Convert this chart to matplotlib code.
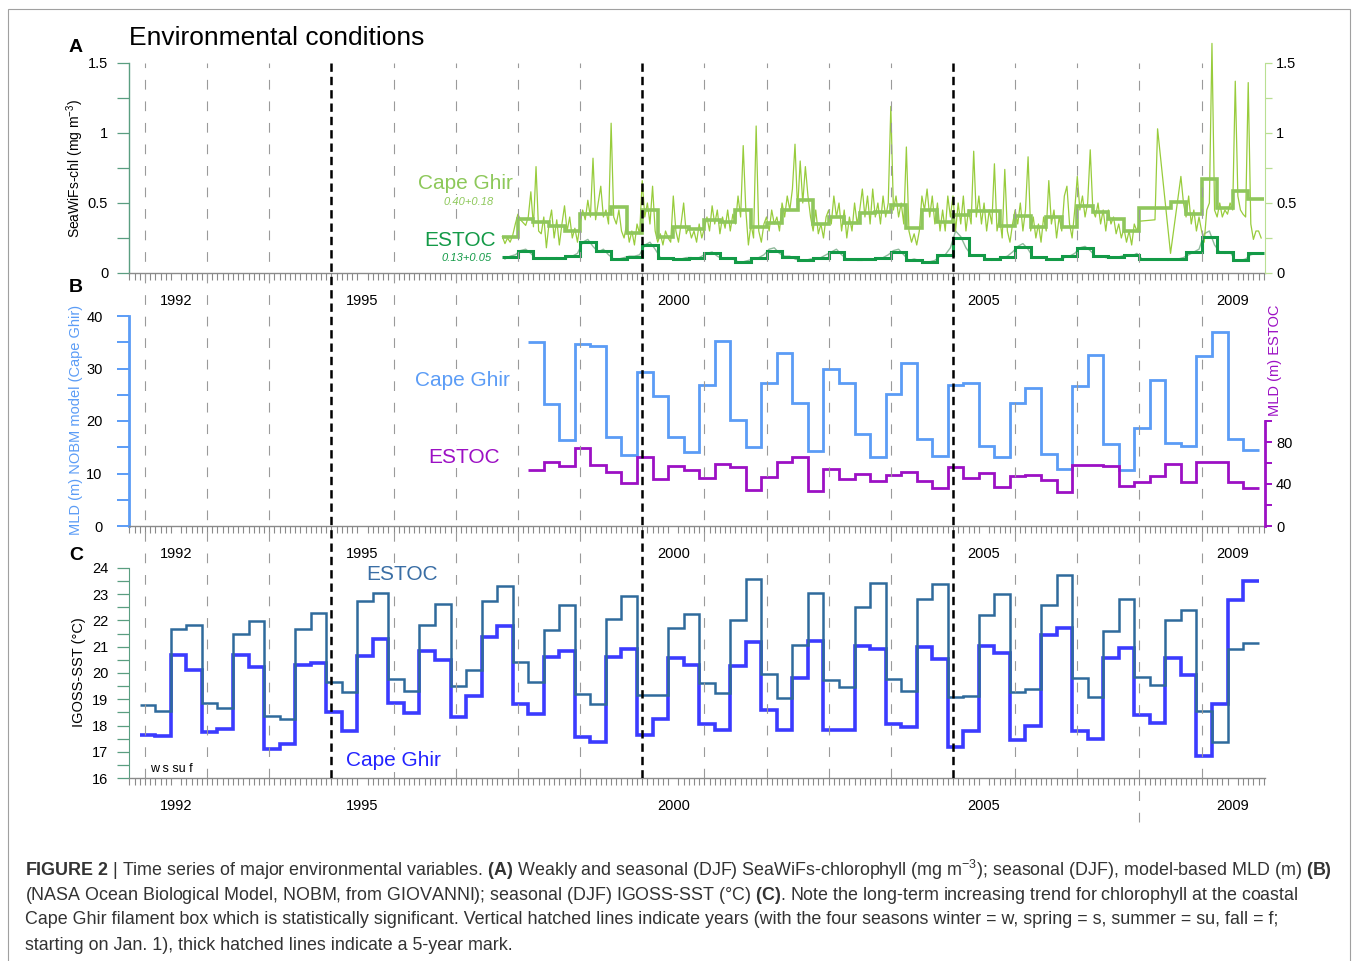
import numpy as np
import matplotlib
matplotlib.use('Agg')
import matplotlib.pyplot as plt
from matplotlib.patches import Rectangle
from matplotlib.ticker import MultipleLocator, FixedLocator

plt.rcParams['font.family'] = ['Liberation Sans', 'DejaVu Sans']
plt.rcParams['mathtext.fontset'] = 'custom'
plt.rcParams['mathtext.rm'] = 'Liberation Sans'
plt.rcParams['mathtext.bf'] = 'Liberation Sans:bold'
plt.rcParams['mathtext.it'] = 'Liberation Sans:italic'
plt.rcParams['lines.scale_dashes'] = False

nan = np.nan

# ---------------- DATA ----------------
year_label_values = [1992, 1995, 2000, 2005, 2009]
year_lines = list(range(1992, 2010))

# Panel A: SeaWiFS chlorophyll (mg m-3); ~half-monthly from Oct 1997
chl_start = 1997.75
chl_cg_weekly = [
    0.26, 0.21, 0.25, 0.22, 0.27, 0.35,
    0.42, 0.38, 0.36, 0.34, 0.40, 0.58, 0.33, 0.76, 0.30, 0.28, 0.40, 0.18, 0.35, 0.45, 0.25, 0.38, 0.20, 0.35, 0.48, 0.30, 0.40, 0.25, 0.32, 0.22,
    0.35, 0.45, 0.38, 0.52, 0.40, 0.82, 0.38, 0.50, 0.62, 0.40, 0.45, 0.35, 1.07, 0.40, 0.35, 0.45, 0.30, 0.25, 0.35, 0.22, 0.30, 0.20, 0.35, 0.28,
    0.66, 0.40, 0.50, 0.35, 0.62, 0.30, 0.22, 0.28, 0.20, 0.30, 0.25, 0.22, 0.55, 0.30, 0.22, 0.35, 0.50, 0.28, 0.33, 0.25, 0.30, 0.22, 0.35, 0.25,
    0.32, 0.40, 0.30, 0.48, 0.35, 0.45, 0.28, 0.40, 0.32, 0.45, 0.30, 0.42, 0.35, 0.55, 0.40, 0.91, 0.45, 0.20, 0.35, 0.25, 1.05, 0.30, 0.22, 0.35,
    0.40, 0.30, 0.45, 0.35, 0.40, 0.30, 0.50, 0.40, 0.55, 0.45, 0.60, 0.92, 0.45, 0.80, 0.50, 0.76, 0.55, 0.40, 0.30, 0.45, 0.28, 0.35, 0.25, 0.40,
    0.45, 0.35, 0.55, 0.40, 0.50, 0.30, 0.45, 0.25, 0.40, 0.30, 0.50, 0.35, 0.45, 0.60, 0.40, 0.55, 0.35, 0.60, 0.40, 0.50, 0.35, 0.55, 0.40, 0.50,
    1.19, 0.45, 0.55, 0.40, 0.50, 0.35, 0.90, 0.30, 0.22, 0.28, 0.20, 0.30, 0.55, 0.45, 0.60, 0.40, 0.55, 0.35, 0.50, 0.30, 0.45, 0.30, 0.55, 0.40,
    0.55, 0.30, 0.50, 0.35, 0.55, 0.30, 0.45, 0.35, 0.87, 0.40, 0.55, 0.35, 0.50, 0.30, 0.45, 0.35, 0.78, 0.30, 0.40, 0.25, 0.74, 0.30, 0.22, 0.35,
    0.45, 0.35, 0.50, 0.30, 0.45, 0.83, 0.30, 0.40, 0.25, 0.35, 0.22, 0.40, 0.30, 0.66, 0.35, 0.45, 0.25, 0.40, 0.30, 0.55, 0.62, 0.35, 0.25, 0.45,
    0.69, 0.45, 0.55, 0.40, 0.50, 0.88, 0.45, 0.40, 0.50, 0.35, 0.45, 0.30, 0.45, 0.35, 0.40, 0.28, 0.35, 0.25, 0.32, 0.22, 0.30, 0.20, 0.35, 0.30,
    0.37, nan, nan, nan, nan, nan, 0.38, 1.03, nan, nan, nan, nan, 0.14, nan, nan, nan, 0.69, 0.50, 0.40, 0.55, 0.35, 0.45, 0.30, 0.40,
    0.30, 0.22, 0.45, 0.50, 1.64, 0.45, 0.40, 0.50, 0.40, 0.45, 0.42, 0.50, 0.45, 1.37, 0.55, 0.45, 0.42, 0.40, 1.36, 0.35, 0.24, 0.30, 0.30, 0.25,
]
chl_estoc_monthly = [
    0.10, 0.12, 0.13,
    0.16, 0.17, 0.14, 0.10, 0.10, 0.11, 0.10, 0.11, 0.10, 0.11, 0.12, 0.14,
    0.22, 0.24, 0.19, 0.15, 0.17, 0.13, 0.10, 0.10, 0.11, 0.12, 0.12, 0.13,
    0.20, 0.22, 0.17, 0.11, 0.10, 0.10, 0.10, 0.10, 0.11, 0.11, 0.10, 0.12,
    0.14, 0.15, 0.12, 0.10, 0.11, 0.10, 0.08, 0.08, 0.09, 0.10, 0.11, 0.13,
    0.17, 0.18, 0.14, 0.12, 0.12, 0.10, 0.09, 0.09, 0.10, 0.10, 0.11, 0.13,
    0.15, 0.17, 0.13, 0.10, 0.10, 0.09, 0.09, 0.10, 0.10, 0.10, 0.11, 0.13,
    0.16, 0.17, 0.13, 0.09, 0.10, 0.09, 0.08, 0.08, 0.09, 0.12, 0.13, 0.18,
    0.30, 0.26, 0.18, 0.13, 0.12, 0.13, 0.10, 0.09, 0.10, 0.11, 0.12, 0.15,
    0.19, 0.21, 0.17, 0.11, 0.11, 0.11, 0.10, 0.10, 0.10, 0.11, 0.12, 0.14,
    0.18, 0.19, 0.16, 0.12, 0.12, 0.11, 0.11, 0.11, 0.12, 0.13, 0.12, 0.14,
    0.10, 0.10, 0.10, 0.10, 0.10, 0.09, 0.10, 0.10, 0.11, 0.13, 0.15, 0.17,
    0.28, 0.30, 0.20, 0.15, 0.14, 0.15, 0.09, 0.09, 0.10, 0.13, 0.14, 0.14,
]
chl_cg_seasonal = [
    0.255,
    0.386, 0.364, 0.336, 0.302,
    0.421, 0.421, 0.474, 0.288,
    0.450, 0.255, 0.326, 0.312,
    0.379, 0.367, 0.450, 0.326,
    0.360, 0.450, 0.520, 0.350,
    0.402, 0.355, 0.426, 0.438,
    0.486, 0.319, 0.450, 0.367,
    0.414, 0.445, 0.445, 0.336,
    0.410, 0.326, 0.402, 0.331,
    0.481, 0.438, 0.386, 0.302,
    0.467, 0.467, 0.510, 0.421,
    0.669, 0.462, 0.586, 0.529,
]
chl_estoc_seasonal = [
    0.117,
    0.155, 0.105, 0.105, 0.120,
    0.219, 0.160, 0.100, 0.117,
    0.202, 0.105, 0.100, 0.105,
    0.140, 0.105, 0.081, 0.105,
    0.160, 0.117, 0.093, 0.105,
    0.152, 0.098, 0.098, 0.105,
    0.152, 0.093, 0.081, 0.129,
    0.248, 0.129, 0.100, 0.117,
    0.188, 0.112, 0.100, 0.121,
    0.176, 0.121, 0.112, 0.129,
    0.100, 0.100, 0.100, 0.152,
    0.260, 0.152, 0.093, 0.140,
]

# Panel B: MLD (m), seasonal from spring 1998
mld_start = 1998 + 2 / 12
mld_cg = [
    35.0, 23.2, 16.4,
    34.7, 34.2, 17.0, 13.5,
    29.3, 24.8, 17.0, 14.1,
    26.9, 35.3, 20.2, 15.1,
    27.3, 33.0, 23.4, 14.2,
    30.0, 27.2, 17.5, 13.2,
    25.1, 31.0, 16.5, 13.3,
    26.9, 27.3, 15.2, 13.2,
    23.5, 26.3, 13.8, 10.8,
    26.7, 32.6, 15.6, 10.7,
    18.7, 27.9, 15.9, 15.3,
    32.4, 37.0, 16.6, 14.5,
]
mld_estoc = [
    53.0, 60.6, 56.8,
    74.0, 57.8, 51.7, 41.3,
    65.7, 45.1, 57.5, 53.3,
    46.0, 59.4, 56.5, 34.3,
    47.0, 61.3, 66.0, 33.3,
    54.6, 44.4, 49.5, 43.2,
    48.6, 51.1, 43.2, 36.5,
    56.5, 45.4, 50.2, 37.5,
    47.6, 48.6, 43.8, 32.7,
    58.4, 58.1, 57.1, 38.4,
    42.2, 47.9, 59.0, 41.6,
    61.3, 60.6, 41.6, 36.2,
]

# Panel C: IGOSS SST (deg C), seasonal (DJF, MAM, JJA, SON) from winter 1992
sst_start = 1991 + 11 / 12
sst_estoc = [
    18.79, 18.57, 21.67, 21.83,
    18.86, 18.65, 21.50, 21.97,
    18.38, 18.26, 21.67, 22.27,
    19.66, 19.26, 22.74, 23.05,
    19.77, 19.33, 21.84, 22.63,
    19.51, 20.10, 22.74, 23.30,
    20.43, 19.66, 21.64, 22.59,
    19.19, 18.81, 22.04, 22.95,
    19.16, 19.15, 21.70, 22.26,
    19.61, 19.23, 22.02, 23.58,
    19.96, 19.06, 21.07, 23.03,
    19.73, 19.48, 22.53, 23.42,
    19.78, 19.31, 22.83, 23.39,
    19.10, 19.14, 22.21, 23.01,
    19.28, 19.39, 22.59, 23.73,
    19.80, 19.10, 21.60, 22.82,
    19.83, 19.53, 22.02, 22.39,
    18.57, 17.38, 20.91, 21.16,
]
sst_cg = [
    17.62, 17.59, 20.68, 20.11,
    17.76, 17.87, 20.67, 20.21,
    17.11, 17.28, 20.29, 20.38,
    18.51, 17.79, 20.66, 21.28,
    18.86, 18.48, 20.85, 20.50,
    18.33, 19.12, 21.37, 21.79,
    18.82, 18.44, 20.60, 20.85,
    17.55, 17.38, 20.60, 20.90,
    17.65, 18.23, 20.58, 20.30,
    18.07, 17.83, 20.27, 21.19,
    18.59, 17.83, 19.80, 21.23,
    17.83, 17.82, 21.03, 20.90,
    18.04, 17.93, 20.98, 20.52,
    17.19, 17.80, 21.04, 20.75,
    17.45, 17.98, 21.43, 21.70,
    17.78, 17.47, 20.58, 20.97,
    18.40, 18.11, 20.56, 19.92,
    16.85, 18.82, 22.78, 23.52,
]

# ---------------- LAYOUT ----------------
W, H = 1358, 961
fig = plt.figure(figsize=(W / 100, H / 100), dpi=100)


def rect(x0, y0, x1, y1):
    return [x0 / W, 1 - y1 / H, (x1 - x0) / W, (y1 - y0) / H]


XLIM = (1991.743, 2010.02)
AX_GRAY = '#8a8a8a'
GREEN_AX = '#5a9e80'

axA = fig.add_axes(rect(129, 63, 1265, 273))
axB = fig.add_axes(rect(129, 316, 1265, 526))
axC = fig.add_axes(rect(129, 568, 1265, 778))


def style_x(ax):
    ax.set_xlim(*XLIM)
    ax.patch.set_alpha(0)
    ax.spines['top'].set_visible(False)
    ax.spines['right'].set_visible(False)
    ax.spines['bottom'].set_color(AX_GRAY)
    ax.spines['bottom'].set_linewidth(1.0)
    ax.set_xticks([y + 0.5 for y in year_label_values], [str(y) for y in year_label_values])
    ax.xaxis.set_minor_locator(MultipleLocator(1 / 12))
    ax.tick_params(axis='x', which='major', length=0, pad=15, labelsize=10.5)
    ax.tick_params(axis='x', which='minor', length=5, width=0.8, color=AX_GRAY)


for ax in (axA, axB, axC):
    style_x(ax)

WHITE_BOX = dict(facecolor='white', edgecolor='none', pad=1.0)


def label(ax, x, y, s, **kw):
    # series label drawn above the year lines, on a white patch
    fig.text(x, y, s, transform=ax.transData, bbox=WHITE_BOX, zorder=10, **kw)


# ---- Panel A ----
axA.set_ylim(0, 1.5)
axA.spines['left'].set_color(GREEN_AX)
axA.spines['left'].set_linewidth(1.0)
axA.set_yticks([0, 0.5, 1, 1.5], ['0', '0.5', '1', '1.5'])
axA.yaxis.set_minor_locator(MultipleLocator(0.25))
axA.tick_params(axis='y', which='both', length=9, width=0.9, color=GREEN_AX, labelsize=10.5, pad=6)

t_w = chl_start + np.arange(len(chl_cg_weekly)) / 24
v_w = np.array(chl_cg_weekly)
ok = ~np.isnan(v_w)
t_e = chl_start + (np.arange(len(chl_estoc_monthly)) + 0.5) / 12
axA.plot(t_e, chl_estoc_monthly, color='#8fb99b', lw=1.0, zorder=2)
axA.plot(t_w[ok], v_w[ok], color='#98cc3c', lw=0.9, zorder=2, clip_on=False)
edges_chl = chl_start + 0.25 * np.arange(len(chl_cg_seasonal) + 1)
axA.stairs(chl_cg_seasonal, edges_chl, baseline=None, color='#8fc65c', lw=2.6, zorder=3)
axA.stairs(chl_estoc_seasonal, edges_chl, baseline=None, color='#139a47', lw=2.2, zorder=4)

axA2 = axA.twinx()
axA2.set_ylim(0, 1.5)
for s in ('top', 'bottom', 'left'):
    axA2.spines[s].set_visible(False)
axA2.spines['right'].set_color('#b9df92')
axA2.set_yticks([0, 0.5, 1, 1.5], ['0', '0.5', '1', '1.5'])
axA2.yaxis.set_minor_locator(MultipleLocator(0.25))
axA2.tick_params(axis='y', which='both', length=5, width=0.9, color='#b9df92', labelsize=10.5, pad=3)

label(axA, 1997.92, 0.64, 'Cape Ghir', color='#8dc85a', fontsize=15, ha='right', va='center')
label(axA, 1997.2, 0.51, '0.40+0.18', color='#8dc85a', fontsize=8, style='italic', ha='center', va='center')
label(axA, 1997.64, 0.23, 'ESTOC', color='#139a47', fontsize=15, ha='right', va='center')
label(axA, 1997.18, 0.107, '0.13+0.05', color='#139a47', fontsize=8, style='italic', ha='center', va='center')

# ---- Panel B ----
BLUE = '#5b9cf6'
PURPLE = '#9c10c4'
axB.set_ylim(0, 40)
axB.spines['left'].set_color(BLUE)
axB.spines['left'].set_linewidth(2.0)
axB.set_yticks([0, 10, 20, 30, 40])
axB.yaxis.set_minor_locator(MultipleLocator(5))
axB.tick_params(axis='y', which='both', length=9, width=1.4, color=BLUE, labelsize=10.5, pad=10)
edges_mld = mld_start + 0.25 * np.arange(len(mld_cg) + 1)
axB.stairs(mld_cg, edges_mld, baseline=None, color=BLUE, lw=2.0, zorder=3)

axB2 = axB.twinx()
axB2.set_ylim(0, 200)
for s in ('top', 'bottom', 'left'):
    axB2.spines[s].set_visible(False)
axB2.spines['right'].set_color(PURPLE)
axB2.spines['right'].set_linewidth(2.0)
axB2.spines['right'].set_bounds(0, 100)
axB2.set_yticks([0, 40, 80])
axB2.yaxis.set_minor_locator(FixedLocator([20, 60, 100]))
axB2.tick_params(axis='y', which='both', length=5, width=1.4, color=PURPLE, labelsize=10.5, pad=3)
axB2.stairs(mld_estoc, edges_mld, baseline=None, color=PURPLE, lw=2.0, zorder=3)
axB2.text(1.0088, 0.79, 'MLD (m) ESTOC', color=PURPLE, fontsize=10.5, rotation=90,
          ha='center', va='center', transform=axB2.transAxes)

label(axB, 1997.10, 27.8, 'Cape Ghir', color=BLUE, fontsize=15, ha='center', va='center')
label(axB, 1997.13, 13.1, 'ESTOC', color=PURPLE, fontsize=15, ha='center', va='center')

# ---- Panel C ----
axC.set_ylim(16, 24)
axC.spines['left'].set_color(GREEN_AX)
axC.set_yticks(range(16, 25))
axC.yaxis.set_minor_locator(MultipleLocator(0.5))
axC.tick_params(axis='y', which='both', length=9, width=0.9, color=GREEN_AX, labelsize=10.5, pad=6)
edges_sst = sst_start + 0.25 * np.arange(len(sst_cg) + 1)
axC.stairs(sst_cg, edges_sst, baseline=None, color='#3b3bff', lw=2.6, zorder=3)
axC.stairs(sst_estoc, edges_sst, baseline=None, color='#2f6a9c', lw=1.8, zorder=4)
label(axC, 1996.13, 23.77, 'ESTOC', color='#3a6ea5', fontsize=15, ha='center', va='center')
label(axC, 1996.0, 16.65, 'Cape Ghir', color='#2424ff', fontsize=15, ha='center', va='center')
label(axC, 1992.08, 16.34, 'w s su f', color='black', fontsize=9, ha='left', va='center')

# ---- year lines across all panels ----
axV = fig.add_axes(rect(129, 63, 1265, 778))
axV.set_xlim(*XLIM)
axV.set_ylim(0, 1)
axV.axis('off')
axV.patch.set_alpha(0)
for yr in year_lines:
    if yr % 5 == 0:
        axV.axvline(yr, 0, 1, color='black', lw=1.8, dashes=(6, 3.6), zorder=5)
    else:
        lo = -44 / 715 if yr == 2008 else 0
        axV.axvline(yr, lo, 1, color='#9a9a9a', lw=0.8, dashes=(7, 8.5), zorder=5, clip_on=False)

# ---- labels ----
fig.text(129 / W, 1 - 38 / H, 'Environmental conditions', fontsize=19, ha='left', va='center')
for lab, yy in (('A', 47), ('B', 288), ('C', 555)):
    fig.text(76 / W, 1 - yy / H, lab, fontsize=14, fontweight='bold', ha='center', va='center')
fig.text(75 / W, 1 - 168 / H, 'SeaWiFs-chl (mg m$^{-3}$)', fontsize=10, rotation=90, ha='center', va='center')
fig.text(76 / W, 1 - 420 / H, 'MLD (m) NOBM model (Cape Ghir)', fontsize=10.5, rotation=90,
         ha='center', va='center', color=BLUE)
fig.text(79 / W, 1 - 672 / H, 'IGOSS-SST (°C)', fontsize=10.5, rotation=90, ha='center', va='center')

# ---- caption ----
caption_lines = [
    r"$\mathbf{FIGURE\ 2}$ | Time series of major environmental variables. $\mathbf{(A)}$ Weakly and seasonal (DJF) SeaWiFs-chlorophyll (mg m$^{-3}$); seasonal (DJF), model-based MLD (m) $\mathbf{(B)}$",
    r"(NASA Ocean Biological Model, NOBM, from GIOVANNI); seasonal (DJF) IGOSS-SST (°C) $\mathbf{(C)}$. Note the long-term increasing trend for chlorophyll at the coastal",
    "Cape Ghir filament box which is statistically significant. Vertical hatched lines indicate years (with the four seasons winter = w, spring = s, summer = su, fall = f;",
    "starting on Jan. 1), thick hatched lines indicate a 5-year mark.",
]
for i, line in enumerate(caption_lines):
    fig.text(25 / W, 1 - (870 + 25 * i) / H, line, fontsize=12.9, ha='left', va='center', color='#333333')

fig.add_artist(Rectangle((8 / W, -0.01), (1350 - 8) / W, 1.01 - 9 / H, transform=fig.transFigure,
                         fill=False, edgecolor='#a0a0a0', lw=0.8))

fig.savefig('out.png', dpi=100)
